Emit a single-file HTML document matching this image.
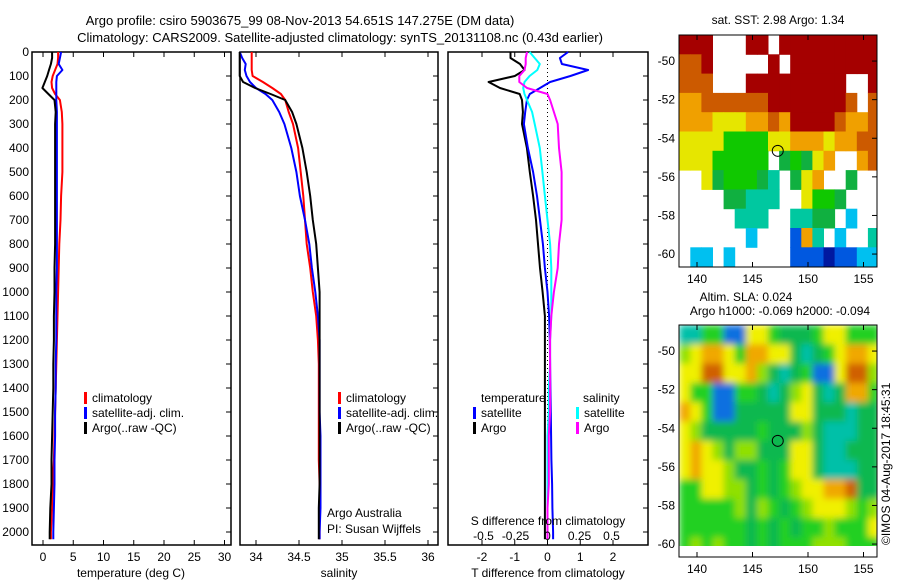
<!DOCTYPE html>
<html><head><meta charset="utf-8">
<style>
body{margin:0;background:#fff;}
svg{display:block;font-family:"Liberation Sans",sans-serif;font-size:12px;}
</style></head><body>
<svg id="c" width="900" height="580" viewBox="0 0 900 580" xmlns="http://www.w3.org/2000/svg">
<defs>
<filter id="blur" x="0" y="0" width="1" height="1"><feGaussianBlur stdDeviation="3.5"/></filter>
<clipPath id="clip1"><rect x="679" y="35" width="198" height="232"/></clipPath>
<clipPath id="clip2"><rect x="679" y="325" width="198" height="221"/></clipPath>
</defs>
<text x="300" y="25" text-anchor="middle" font-size="13">Argo profile: csiro 5903675_99 08-Nov-2013 54.651S 147.275E (DM data)</text>
<text x="340" y="42" text-anchor="middle" font-size="13">Climatology: CARS2009. Satellite-adjusted climatology: synTS_20131108.nc (0.43d earlier)</text>
<g id="g"></g>
</svg>
<script>
// ---------- profile data ----------
const depths=[0,25,50,75,100,125,150,175,200,250,300,400,500,600,700,800,900,1000,1100,1200,1300,1400,1500,1600,1700,1800,1900,2000,2030];
const tempArgo=[1.5,1.5,1.3,1.0,0.7,0.3,-0.1,0.9,1.9,2.1,2.0,2.0,2.0,2.0,2.0,2.0,1.9,1.9,1.8,1.8,1.7,1.7,1.6,1.5,1.4,1.4,1.2,1.1,1.1];
const tempClim=[2.5,2.5,2.4,2.0,1.6,1.4,1.5,2.0,2.8,3.1,3.2,3.2,3.2,3.0,2.9,2.7,2.6,2.5,2.4,2.3,2.2,2.1,2.0,1.9,1.8,1.6,1.5,1.3,1.3];
const tempSat=[3.0,2.8,2.6,3.2,2.3,2.2,2.2,2.2,2.2,2.3,2.3,2.3,2.3,2.3,2.3,2.3,2.3,2.2,2.2,2.2,2.1,2.1,2.0,2.0,1.9,1.9,1.8,1.7,1.7];
const salClim=[33.95,33.95,33.95,33.95,33.96,34.08,34.19,34.29,34.34,34.38,34.43,34.49,34.52,34.55,34.57,34.59,34.63,34.66,34.70,34.72,34.73,34.73,34.73,34.73,34.73,34.74,34.74,34.74,34.74];
const salSat=[33.81,33.84,33.88,33.87,33.89,33.93,34.00,34.11,34.19,34.27,34.33,34.41,34.47,34.51,34.57,34.62,34.65,34.69,34.72,34.74,34.74,34.74,34.74,34.75,34.75,34.75,34.75,34.74,34.74];
const salArgo=[33.81,33.81,33.81,33.81,33.81,33.85,33.99,34.17,34.34,34.42,34.47,34.54,34.59,34.63,34.66,34.70,34.72,34.74,34.74,34.74,34.74,34.74,34.74,34.74,34.74,34.74,34.73,34.73,34.73];
const dTArgo=[-1.13,-1.13,-0.84,-0.7,-1.0,-1.8,-1.45,-0.85,-0.78,-0.75,-0.78,-0.63,-0.54,-0.44,-0.35,-0.29,-0.23,-0.15,-0.08,-0.08,-0.08,-0.08,-0.08,-0.08,-0.08,-0.08,-0.08,-0.08,-0.08];
const dTSat=[0.63,0.38,0.44,1.24,0.7,0.08,-0.23,-0.54,-0.63,-0.68,-0.72,-0.6,-0.44,-0.32,-0.23,-0.14,-0.08,0.0,0.05,0.07,0.08,0.09,0.1,0.11,0.12,0.14,0.15,0.17,0.17];
const dSSat=[-0.14,-0.10,-0.06,-0.08,-0.14,-0.18,-0.19,-0.18,-0.16,-0.12,-0.10,-0.06,-0.04,-0.02,0.0,0.02,0.03,0.03,0.03,0.02,0.02,0.01,0.01,0.0,0.0,0.0,0.0,0.0,0.0];
const dSArgo=[-0.16,-0.17,-0.17,-0.18,-0.22,-0.22,-0.16,0.0,0.02,0.05,0.08,0.09,0.11,0.11,0.11,0.09,0.08,0.05,0.03,0.02,0.02,0.02,0.02,0.01,0.01,0.01,0.0,0.0,0.0];
const depthTicks=[0,100,200,300,400,500,600,700,800,900,1000,1100,1200,1300,1400,1500,1600,1700,1800,1900,2000];
const tempTicks=[0,5,10,15,20,25,30];
const salTicks=[34,34.5,35,35.5,36];
const salTickLabels=["34","34.5","35","35.5","36"];
const dTTicks=[-2,-1,0,1,2];
const dSTicks=[-0.5,-0.25,0,0.25,0.5];
const dSTickLabels=["-0.5","-0.25","0","0.25","0.5"];
// ---------- map data ----------
const lonTicks=[140,145,150,155];
const latTicks=[-50,-52,-54,-56,-58,-60];
const sstGrid=[
"RRR...RR.RRRRRRRRR",
"OOR.....R.RRRRRRRR",
"OOO...RRRRRRRRR..R",
"ooOOOOOORRRRRRRO.O",
"oooYYYooOoRRRROooO",
"YYYYGGGGYYoooYooOO",
"YYYGGGGG.gGgYo..oO",
"..YgGGGgT.gYo..g..",
"....ggTTT..YGGg...",
".....TTT..TTgg.C..",
"......C...BoT.C..T",
".CC.C.....BBBDBBCC"];
const slaGrid=[
"TTGGBBYYGgggGYYGGG",
"LYOOYGOOYYgTgGYOOY",
"YYRRYYOLgTgGBBYRRL",
"YGGBBGGgTgLYgTgOOG",
"OYGBBgggggYYgggTgg",
"YLgggggGgggLgTTTgg",
"YOYLgLLgggYYgTTggg",
"YOYYLggGgGYYgTTTgg",
"GGYYLLgGgGLYYOORgg",
"GGGGGLgLGgGLYYYLGL",
"GGGGGGgGgGgGGLGGGY",
"GLGLGGgGgGGGLLLGGG"];
const sstColors={R:"#a50000",O:"#cc5a00",o:"#f0a000",Y:"#e6e600",G:"#10c800",g:"#10b040",T:"#00c8a0",C:"#00c0f0",B:"#0058e0",D:"#0018a0"};
const slaColors={R:"#d06000",O:"#f0a800",Y:"#f0f000",L:"#90e000",G:"#20d020",g:"#10b850",T:"#00c0a8",C:"#00b0e0",B:"#1070e0"};
const argoLon=147.275, argoLat=-54.651;

const NS="http://www.w3.org/2000/svg";
const G=document.getElementById('g');
function mk(tag,attrs,parent){const e=document.createElementNS(NS,tag);for(const k in attrs)e.setAttribute(k,attrs[k]);(parent||G).appendChild(e);return e;}
function txt(x,y,s,anchor,parent){const e=mk('text',{x:x,y:y,'text-anchor':anchor||'start'},parent);e.textContent=s;return e;}
const yD=d=>52+d*0.24;
const Y0=52,Y1=545;

function panel(x0,x1,name){
  const r=mk('rect',{x:x0,y:Y0,width:x1-x0,height:Y1-Y0,fill:'none',stroke:'#000','stroke-width':1.5});
  
  
  depthTicks.forEach(d=>{mk('line',{x1:x1,x2:x1-5,y1:yD(d),y2:yD(d),stroke:'#000'});});
}
function xticks(vals,labels,fx,name){
  vals.forEach((v,i)=>{
    const x=fx(v);
    mk('line',{x1:x,x2:x,y1:Y0,y2:Y0+5,stroke:'#000'});
    mk('line',{x1:x,x2:x,y1:Y1,y2:Y1-5,stroke:'#000'});
    const t=txt(x,561,labels[i],'middle');
    
    
  });
}
function line(xs,fx,color,name,w){
  const pts=depths.map((d,i)=>fx(xs[i]).toFixed(1)+','+yD(d).toFixed(1)).join(' ');
  const p=mk('polyline',{points:pts,fill:'none',stroke:color,'stroke-width':w||2,'stroke-linejoin':'round'});
  
  
}
function legend(x,y,color,label,name){
  mk('rect',{x:x,y:y-10,width:3,height:12,fill:color});
  const t=txt(x+8,y,label);
  
  
}

depthTicks.forEach(d=>{const t=txt(29,yD(d)+4,String(d),'end');
  
  });

const fT=t=>43+t*6.05;
panel(32,231,'temperature-panel');
xticks(tempTicks,tempTicks.map(String),fT,'temperature-tick-label');
line(tempClim,fT,'#ff0000','temp-climatology-line');
line(tempSat,fT,'#0000ff','temp-satellite-line');
line(tempArgo,fT,'#000000','temp-argo-line');
legend(84,402,'#ff0000','climatology','legend-climatology');
legend(84,417,'#0000ff','satellite-adj. clim.','legend-satellite');
legend(84,432,'#000000','Argo(..raw -QC)','legend-argo');
{const t=txt(131,577,'temperature (deg C)','middle');}

const fS=s=>256+(s-34)*86;
panel(240,438,'salinity-panel');
xticks(salTicks,salTickLabels,fS,'salinity-tick-label');
line(salClim,fS,'#ff0000','sal-climatology-line');
line(salSat,fS,'#0000ff','sal-satellite-line');
line(salArgo,fS,'#000000','sal-argo-line');
legend(338,402,'#ff0000','climatology','legend-climatology-2');
legend(338,417,'#0000ff','satellite-adj. clim.','legend-satellite-2');
legend(338,432,'#000000','Argo(..raw -QC)','legend-argo-2');
{const t=txt(327,517,'Argo Australia');}
{const t=txt(327,533,'PI: Susan Wijffels');}
{const t=txt(339,577,'salinity','middle');}

const fdT=v=>547.5+v*32.75;
const fdS=v=>547.5+v*128;
panel(448,648,'difference-panel');
xticks(dTTicks,dTTicks.map(String),fdT,'t-diff-tick-label');
mk('line',{x1:547.5,x2:547.5,y1:Y0,y2:Y1,stroke:'#000','stroke-dasharray':'1,3'});
line(dTArgo,fdT,'#000000','t-diff-argo-line');
line(dTSat,fdT,'#0000ff','t-diff-satellite-line');
line(dSSat,fdS,'#00ffff','s-diff-satellite-line');
line(dSArgo,fdS,'#ff00ff','s-diff-argo-line');
txt(481,402,'temperature');
txt(583,402,'salinity');
legend(473,417,'#0000ff','satellite','legend-t-satellite');
legend(473,432,'#000000','Argo','legend-t-argo');
legend(576,417,'#00ffff','satellite','legend-s-satellite');
legend(576,432,'#ff00ff','Argo','legend-s-argo');
{const t=txt(548,525,'S difference from climatology','middle');}
dSTicks.forEach((v,i)=>{const t=txt(fdS(v),540,dSTickLabels[i],'middle');});
{const t=txt(548,577,'T difference from climatology','middle');}

const fLon=l=>697+(l-140)*11.1;
function drawMap(grid,colors,top,lat0,clip,name,blur,boxBottom){
  const fLat=la=>top+(lat0-la)*19.3;
  const g=mk('g',{'clip-path':'url(#'+clip+')'});
  
  
  const inner=mk('g',blur?{filter:'url(#blur)'}:{},g);
  const lonStart=138.4, latStart=-48.65;
  grid.forEach((row,r)=>{
    [...row].forEach((ch,c)=>{
      if(!colors[ch])return;
      const x=fLon(lonStart+c), y=fLat(latStart-r);
      mk('rect',{x:x.toFixed(1),y:y.toFixed(1),width:11.6,height:19.8,fill:colors[ch]},inner);
    });
  });
  const bx0=679,bx1=877,by0=top-(-48.65-lat0)*19.3;
  mk('rect',{x:bx0,y:by0,width:bx1-bx0,height:boxBottom-by0,fill:'none',stroke:'#000'});
  lonTicks.forEach(l=>{const x=fLon(l);
    mk('line',{x1:x,x2:x,y1:by0,y2:by0+5,stroke:'#000'});
    mk('line',{x1:x,x2:x,y1:boxBottom,y2:boxBottom-5,stroke:'#000'});
    const t=txt(x,boxBottom+16,String(l),'middle');});
  latTicks.forEach(la=>{const y=fLat(la);
    mk('line',{x1:bx1,x2:bx1-5,y1:y,y2:y,stroke:'#000'});
    const t=txt(675,y+4,String(la),'end');});
  const c=mk('circle',{cx:fLon(argoLon),cy:fLat(argoLat),r:5.5,fill:'none',stroke:'#000','stroke-width':1});
  
  
}
drawMap(sstGrid,sstColors,35,-48.65,'clip1','sst-map',false,267);
drawMap(slaGrid,slaColors,325,-48.65,'clip2','sla-map',true,557);
{const t=txt(778,24,'sat. SST: 2.98 Argo: 1.34','middle');}
{const t=txt(746,301,'Altim. SLA: 0.024','middle');}
{const t=txt(780,315,'Argo h1000: -0.069 h2000: -0.094','middle');}
{const t=mk('text',{x:0,y:0,transform:'translate(890,545) rotate(-90)'});t.textContent='©IMOS 04-Aug-2017 18:45:31';}
</script>
</body></html>
